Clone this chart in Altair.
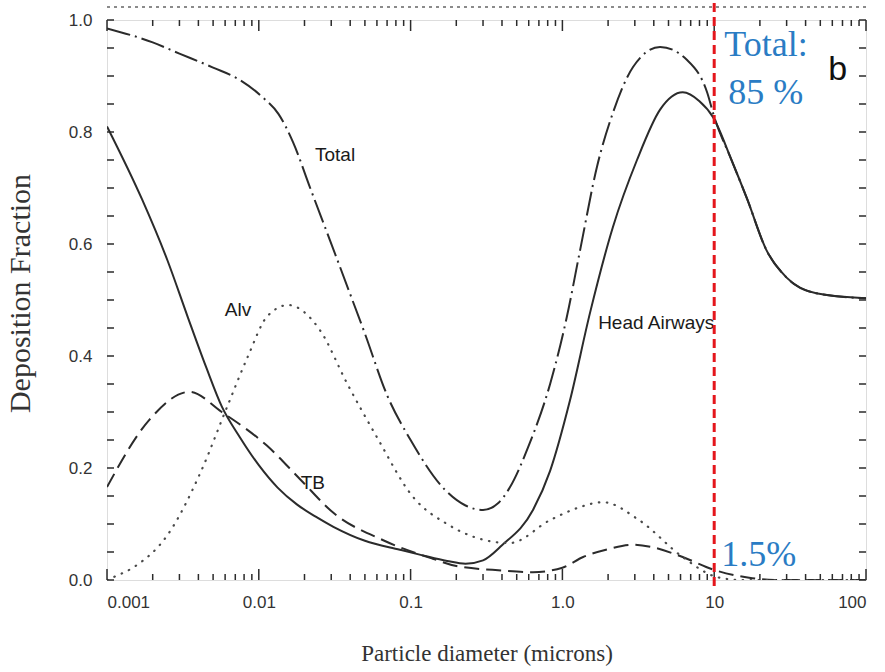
import altair as alt
import pandas as pd

# ---------------- data ----------------
head_x = [0.001, 0.0017, 0.0025, 0.0034, 0.0045, 0.0057, 0.0075, 0.01, 0.0133, 0.0178, 0.0237, 0.031, 0.05,
          0.085, 0.12, 0.174, 0.23, 0.3, 0.4, 0.64, 0.83, 1.12, 1.52, 2.15, 3.1, 4.4, 6.2, 8.0, 9.8, 13, 16.5,
          22, 30, 47, 100]
head_y = [0.81, 0.68, 0.571, 0.47, 0.38, 0.31, 0.255, 0.205, 0.165, 0.135, 0.113, 0.095, 0.07,
          0.054, 0.044, 0.034, 0.029, 0.035, 0.062, 0.125, 0.195, 0.32, 0.477, 0.63, 0.75, 0.84, 0.871, 0.855,
          0.827, 0.75, 0.68, 0.59, 0.54, 0.512, 0.503]

total_x = [0.001, 0.002, 0.003, 0.005, 0.0075, 0.0106, 0.0135, 0.0168, 0.0218, 0.0294, 0.0398, 0.05, 0.07, 0.1,
           0.17, 0.23, 0.3, 0.38, 0.45, 0.6, 0.83, 1.07, 1.31, 1.69, 2.15, 2.92, 4.4, 6.6, 9.0, 10, 13, 16.5, 22,
           30, 47, 100]
total_y = [0.985, 0.96, 0.94, 0.915, 0.893, 0.862, 0.832, 0.782, 0.70, 0.607, 0.512, 0.44, 0.33, 0.25,
           0.16, 0.133, 0.125, 0.138, 0.165, 0.24, 0.35, 0.47, 0.59, 0.738, 0.834, 0.916, 0.952, 0.929, 0.87,
           0.827, 0.75, 0.68, 0.59, 0.54, 0.512, 0.503]

alv_x = [0.001, 0.0011, 0.0015, 0.0025, 0.0041, 0.0062, 0.0085, 0.0113, 0.0156, 0.0253, 0.038, 0.06, 0.104,
         0.174, 0.3, 0.45, 0.83, 1.3, 1.85, 3.2, 6.2, 10.5, 15, 100]
alv_y = [0.0, 0.005, 0.023, 0.08, 0.19, 0.31, 0.40, 0.47, 0.491, 0.446, 0.352, 0.255, 0.148,
         0.10, 0.072, 0.066, 0.107, 0.13, 0.139, 0.107, 0.041, 0.005, 0.0, 0.0]

tb_x = [0.001, 0.0019, 0.0035, 0.0057, 0.0113, 0.0187, 0.031, 0.066, 0.14, 0.2, 0.4, 0.64, 1.0, 1.37, 2.0,
        2.9, 4.0, 6.2, 10, 17, 25, 100]
tb_y = [0.166, 0.286, 0.336, 0.30, 0.24, 0.18, 0.12, 0.071, 0.038, 0.025, 0.017, 0.014, 0.022, 0.041, 0.055,
        0.063, 0.058, 0.041, 0.018, 0.004, 0.0, 0.0]

x_tick_values = [0.001, 0.01, 0.1, 1, 10, 100]
x_tick_labels = ["0.001", "0.01", "0.1", "1.0", "10", "100"]
y_tick_values = [0.0, 0.2, 0.4, 0.6, 0.8, 1.0]

curve_labels = ["Total", "Alv", "TB", "Head Airways"]
curve_label_x = [0.0318, 0.0073, 0.0227, 1.72]
curve_label_y = [0.759, 0.482, 0.173, 0.459]
curve_label_align = ["center", "center", "center", "left"]

cut_x = 10
annot_text = ["Total:", "85 %", "1.5%"]
annot_y = [0.955, 0.87, 0.045]
annot_dx = [10, 14, 7]

# minor tick positions
x_minor = [m * 10 ** e for e in range(-3, 2) for m in range(2, 10)]
y_minor = [i * 0.05 for i in range(1, 20)]

W, H = 759, 560
INK = "#2b2b2b"

xscale = alt.Scale(type="log", domain=[0.001, 100], nice=False)
yscale = alt.Scale(domain=[0, 1], nice=False)

label_expr = " : ".join(
    f"datum.value == {v} ? '{t}'" for v, t in zip(x_tick_values, x_tick_labels)
) + " : ''"

X = alt.X("x:Q", scale=xscale, axis=alt.Axis(
    values=x_tick_values, labelExpr=label_expr, ticks=False, domain=False, grid=False,
    labelFont="Liberation Sans", labelFontSize=17, labelColor="#333", labelPadding=14,
    title="Particle diameter (microns)", titleFont="Liberation Serif", titleFontSize=23,
    titleFontWeight="normal", titleColor="#333", titleY=62))
Y = alt.Y("y:Q", scale=yscale, axis=alt.Axis(
    values=y_tick_values, format=".1f", ticks=False, domain=False, grid=False,
    labelFont="Liberation Sans", labelFontSize=17, labelColor="#333", labelPadding=15,
    title="Deposition Fraction", titleFont="Liberation Serif", titleFontSize=30,
    titleFontWeight="normal", titleColor="#333", titleX=-72, titleY=273, titleAngle=-90))


def series(xs, ys):
    return pd.DataFrame({"x": xs, "y": ys})


base_line = dict(color=INK, interpolate="monotone", clip=True)

head = alt.Chart(series(head_x, head_y)).mark_line(strokeWidth=2, **base_line).encode(x=X, y=Y)
total = alt.Chart(series(total_x, total_y)).mark_line(
    strokeWidth=2, strokeDash=[24, 5, 2, 5], **base_line).encode(x=X, y=Y)
tb = alt.Chart(series(tb_x, tb_y)).mark_line(
    strokeWidth=2, strokeDash=[15, 7], **base_line).encode(x=X, y=Y)
alv = alt.Chart(series(alv_x, alv_y)).mark_line(
    strokeWidth=2.2, strokeDash=[0.5, 7.5], strokeCap="round", color="#4a4a4a",
    interpolate="monotone", clip=True).encode(x=X, y=Y)

# inward ticks
xmaj = pd.DataFrame({"x": x_tick_values})
xmin = pd.DataFrame({"x": x_minor})
ymin = pd.DataFrame({"y": y_minor + [0.0, 1.0]})

tick_kw = dict(color=INK, strokeWidth=1.5)
ticks = [
    alt.Chart(xmaj).mark_rule(**tick_kw).encode(x=alt.X("x:Q", scale=xscale), y=alt.value(H), y2=alt.value(H - 11)),
    alt.Chart(xmaj).mark_rule(**tick_kw).encode(x=alt.X("x:Q", scale=xscale), y=alt.value(0), y2=alt.value(11)),
    alt.Chart(xmin).mark_rule(**tick_kw).encode(x=alt.X("x:Q", scale=xscale), y=alt.value(H), y2=alt.value(H - 6)),
    alt.Chart(xmin).mark_rule(**tick_kw).encode(x=alt.X("x:Q", scale=xscale), y=alt.value(0), y2=alt.value(6)),
    alt.Chart(ymin).mark_rule(**tick_kw).encode(y=alt.Y("y:Q", scale=yscale), x=alt.value(0), x2=alt.value(7)),
    alt.Chart(ymin).mark_rule(**tick_kw).encode(y=alt.Y("y:Q", scale=yscale), x=alt.value(W), x2=alt.value(W - 7)),
]

# scan artifact dotted line above frame
top_dots = alt.Chart(pd.DataFrame({"a": [0]})).mark_rule(
    color="#666", strokeWidth=1.5, strokeDash=[3, 4]).encode(
    x=alt.value(0), x2=alt.value(W), y=alt.value(-13))

lbl_df = pd.DataFrame({"x": curve_label_x, "y": curve_label_y, "t": curve_labels, "a": curve_label_align})
labels_c = alt.Chart(lbl_df[lbl_df.a == "center"]).mark_text(
    font="Liberation Sans", fontSize=19, color="#1a1a1a", align="center", baseline="middle").encode(
    x=alt.X("x:Q", scale=xscale), y=alt.Y("y:Q", scale=yscale), text="t:N")
labels_l = alt.Chart(lbl_df[lbl_df.a == "left"]).mark_text(
    font="Liberation Sans", fontSize=19, color="#1a1a1a", align="left", baseline="middle").encode(
    x=alt.X("x:Q", scale=xscale), y=alt.Y("y:Q", scale=yscale), text="t:N")

b_label = alt.Chart(pd.DataFrame({"x": [65], "y": [0.91], "t": ["b"]})).mark_text(
    font="Liberation Sans", fontSize=34, color="#111", align="center", baseline="middle").encode(
    x=alt.X("x:Q", scale=xscale), y=alt.Y("y:Q", scale=yscale), text="t:N")

cut = alt.Chart(pd.DataFrame({"x": [cut_x]})).mark_rule(
    color="#e4161c", strokeWidth=3, strokeDash=[9, 5]).encode(
    x=alt.X("x:Q", scale=xscale), y=alt.value(-17), y2=alt.value(H + 10))

annots = []
for t, yv, dx in zip(annot_text, annot_y, annot_dx):
    annots.append(alt.Chart(pd.DataFrame({"x": [cut_x], "y": [yv], "t": [t]})).mark_text(
        font="Liberation Serif", fontSize=36, color="#2a7cc4", align="left", baseline="middle", dx=dx).encode(
        x=alt.X("x:Q", scale=xscale), y=alt.Y("y:Q", scale=yscale), text="t:N"))

chart = alt.layer(
    head, total, tb, alv, *ticks, top_dots, labels_c, labels_l, b_label, cut, *annots
).properties(
    width=W, height=H,
    autosize=alt.AutoSizeParams(type="none"),
    padding={"left": 107, "top": 20, "right": 19, "bottom": 92},
).configure_view(stroke=INK, strokeWidth=2).configure(background="white")

chart.save("out.html", embed_options={"renderer": "svg", "actions": False})
